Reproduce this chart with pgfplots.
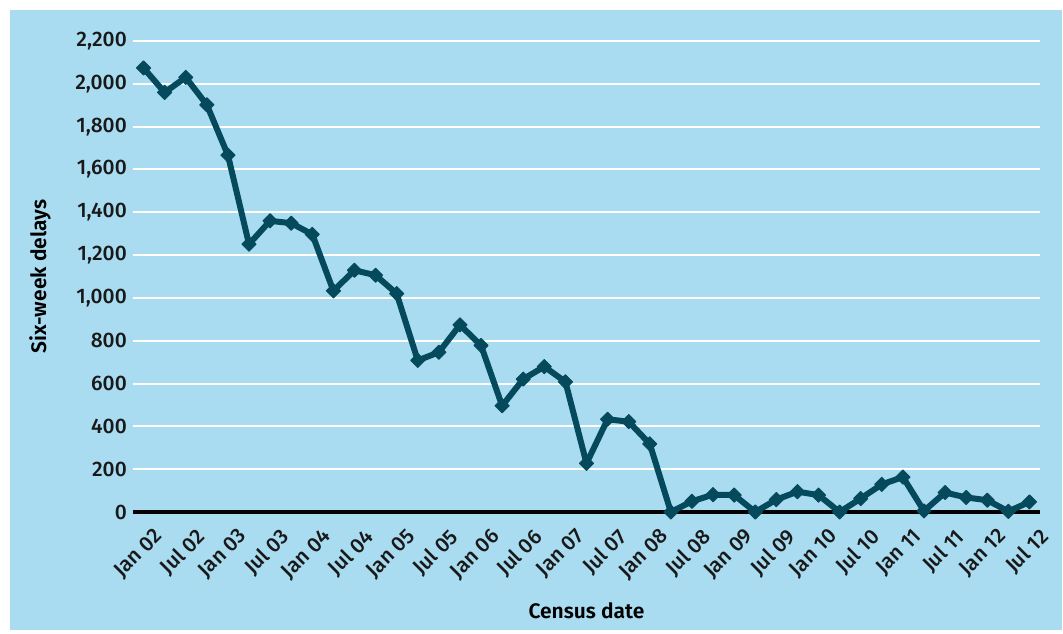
\documentclass[border=0pt]{standalone}
\usepackage{pgfplots}
\pgfplotsset{compat=1.18}
\usepackage{fontspec}
\setmainfont{Fira Sans Medium}[BoldFont={Fira Sans SemiBold}]
\definecolor{bgblue}{RGB}{169,220,240}
\definecolor{linecol}{RGB}{5,74,92}
\begin{document}
\begin{tikzpicture}
\fill[white] (0,0) rectangle (1063pt,633pt);
\fill[bgblue] (10pt,3pt) rectangle (1062pt,623pt);
\begin{axis}[
  at={(133pt,121pt)}, anchor=south west,
  scale only axis, width=907pt, height=471pt,
  xmin=-0.5, xmax=42.5, ymin=0, ymax=2200,
  clip=false,
  axis line style={draw=none},
  major tick length=0pt,
  ymajorgrids, grid style={white, line width=2pt},
  ytick={0,200,...,2200},
  xtick={0,2,...,42},
  xticklabels={Jan 02,Jul 02,Jan 03,Jul 03,Jan 04,Jul 04,Jan 05,Jul 05,Jan 06,Jul 06,Jan 07,Jul 07,Jan 08,Jul 08,Jan 09,Jul 09,Jan 10,Jul 10,Jan 11,Jul 11,Jan 12,Jul 12},
  /pgf/number format/assume math mode=true,
  /pgf/number format/.cd, 1000 sep={,}, /pgfplots/.cd,
  tick label style={font=\fontsize{21}{24}\selectfont, text=black!90},
  yticklabel style={inner xsep=0pt, xshift=-6pt},
  xticklabel style={rotate=45, anchor=north east, inner sep=0pt, xshift=-4pt, yshift=-17pt},
  xlabel={\textbf{Census date}}, ylabel={\textbf{Six-week delays}},
  label style={font=\fontsize{21}{24}\selectfont},
  xlabel style={at={(axis description cs:0.5,-0.21)}, anchor=center},
  ylabel style={at={(axis description cs:-0.1025,0.5)}, anchor=center, rotate=0},
]
\draw[black, line width=4pt] (axis cs:-0.5,0) -- (axis cs:42.5,0);
\addplot[linecol, line width=6pt, line join=round, mark=square*, mark size=5pt, mark options={solid, rotate=45, fill=linecol, line width=1pt}] coordinates {
(0,2074) (1,1960) (2,2030) (3,1902) (4,1667) (5,1251) (6,1360) (7,1349) (8,1297) (9,1033)
(10,1129) (11,1106) (12,1020) (13,708) (14,746) (15,874) (16,778) (17,496) (18,621) (19,679)
(20,608) (21,227) (22,433) (23,422) (24,318) (25,0) (26,50) (27,81) (28,79) (29,0)
(30,58) (31,95) (32,79) (33,0) (34,63) (35,129) (36,163) (37,5) (38,91) (39,68)
(40,55) (41,3) (42,47)
};
\end{axis}
\end{tikzpicture}
\end{document}
